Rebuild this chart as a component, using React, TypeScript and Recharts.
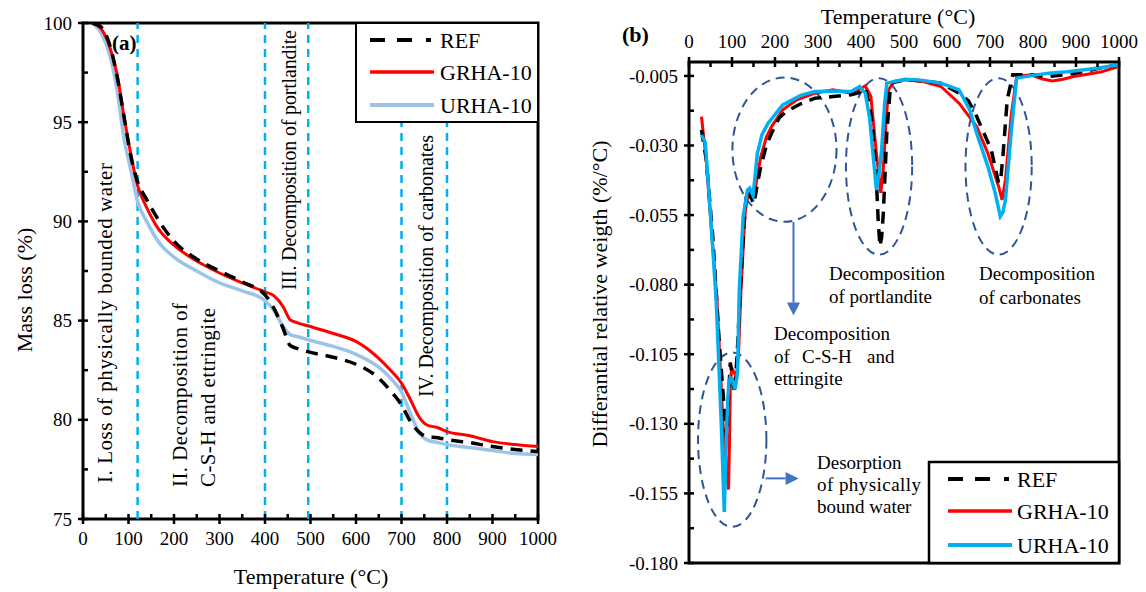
import React from "react";
import { LineChart, Line, XAxis, YAxis, ReferenceLine, ReferenceArea } from "recharts";

const FONT = '"Liberation Serif", "Times New Roman", serif';

// ---- panel (a): TG mass loss ----
const tgTemp = [20, 40, 60, 75, 90, 105, 120, 140, 165, 200, 250, 300, 350, 400, 420, 440, 455, 470, 500, 550, 600, 650, 680, 700, 720, 740, 755, 780, 800, 850, 900, 950, 1000];
const tgRef = [100, 99.8, 98.8, 97.3, 95.3, 93.3, 92.0, 91.1, 90.1, 89.0, 88.1, 87.5, 86.95, 86.3, 85.6, 84.6, 83.75, 83.6, 83.4, 83.15, 82.8, 82.1, 81.35, 80.75, 79.9, 79.35, 79.15, 79.1, 79.0, 78.85, 78.65, 78.5, 78.4];
const tgGrha = [100, 99.7, 98.7, 97.4, 95.3, 93.4, 91.8, 90.7, 89.65, 88.8, 88.0, 87.4, 86.9, 86.45, 86.25, 85.7, 85.05, 84.9, 84.7, 84.35, 83.95, 83.1, 82.4, 81.85, 81.0, 80.1, 79.75, 79.6, 79.4, 79.2, 78.9, 78.75, 78.65];
const tgUrha = [100, 99.5, 98.3, 96.6, 94.2, 92.6, 91.0, 90.0, 89.0, 88.2, 87.5, 86.9, 86.5, 86.0, 85.5, 84.7, 84.3, 84.2, 84.0, 83.7, 83.3, 82.65, 82.0, 81.4, 80.3, 79.3, 79.0, 78.85, 78.75, 78.6, 78.45, 78.3, 78.25];
const stageBounds = [120, 400, 495, 700, 800];

const tempTicks = [0, 50, 100, 150, 200, 250, 300, 350, 400, 450, 500, 550, 600, 650, 700, 750, 800, 850, 900, 950, 1000];
const tempLabels = [0, 100, 200, 300, 400, 500, 600, 700, 800, 900, 1000];
const massTicks = [75, 77.5, 80, 82.5, 85, 87.5, 90, 92.5, 95, 97.5, 100];
const massLabels = [75, 80, 85, 90, 95, 100];

// ---- panel (b): DTG ----
const dtgRefTemp = [29, 40, 55, 70, 87, 92, 96, 100, 106, 112, 120, 128, 134, 142, 151, 160, 167, 180, 192, 210, 226, 260, 293, 335, 377, 395, 410, 420, 427, 435, 440, 444, 448, 452, 456, 460, 469, 502, 544, 586, 628, 650, 669, 690, 703, 715, 720, 725, 730, 740, 753, 795, 837, 880, 920, 960, 1000];
const dtgRef = [-0.0244, -0.035, -0.062, -0.100, -0.135, -0.120, -0.108, -0.112, -0.119, -0.105, -0.080, -0.058, -0.046, -0.048, -0.051, -0.043, -0.0375, -0.030, -0.0256, -0.020, -0.0178, -0.015, -0.013, -0.0124, -0.0118, -0.011, -0.0094, -0.016, -0.0232, -0.040, -0.057, -0.0662, -0.063, -0.054, -0.040, -0.0256, -0.0076, -0.0064, -0.0068, -0.0076, -0.0112, -0.014, -0.0196, -0.027, -0.0316, -0.040, -0.0435, -0.042, -0.034, -0.0136, -0.0046, -0.0046, -0.0052, -0.0045, -0.0034, -0.002, -0.001];
const dtgGrhaTemp = [29, 40, 52, 65, 79, 92, 94, 96, 99, 105, 110, 115, 121, 130, 134, 142, 155, 167, 180, 192, 218, 251, 293, 335, 377, 400, 410, 423, 435, 446, 452, 458, 464, 477, 502, 544, 586, 628, 669, 695, 720, 728, 736, 749, 762, 795, 820, 845, 870, 895, 920, 960, 1000];
const dtgGrha = [-0.0196, -0.035, -0.060, -0.085, -0.1296, -0.1536, -0.138, -0.1176, -0.1098, -0.1116, -0.113, -0.1056, -0.0816, -0.0555, -0.0495, -0.048, -0.0447, -0.034, -0.027, -0.0232, -0.0172, -0.0136, -0.0112, -0.0100, -0.0112, -0.0095, -0.0086, -0.0124, -0.0316, -0.047, -0.038, -0.022, -0.0100, -0.0070, -0.0064, -0.0070, -0.0088, -0.0148, -0.0232, -0.0328, -0.0447, -0.0495, -0.0423, -0.0196, -0.0052, -0.0046, -0.0060, -0.0068, -0.0062, -0.0052, -0.0046, -0.0035, -0.0016];
const dtgUrhaTemp = [29, 38, 50, 63, 75, 82, 88, 92, 96, 100, 107, 113, 117, 126, 136, 141, 149, 159, 170, 184, 218, 260, 293, 335, 377, 397, 410, 420, 427, 436, 442, 448, 455, 460, 502, 544, 586, 628, 653, 669, 695, 712, 724, 730, 736, 749, 762, 800, 837, 880, 920, 960, 1000];
const dtgUrha = [-0.0262, -0.029, -0.055, -0.085, -0.1296, -0.1617, -0.1296, -0.1164, -0.1134, -0.114, -0.1176, -0.1116, -0.0816, -0.0555, -0.046, -0.0453, -0.048, -0.0328, -0.026, -0.022, -0.0154, -0.012, -0.0106, -0.0104, -0.0106, -0.0088, -0.0112, -0.020, -0.0316, -0.046, -0.040, -0.0316, -0.015, -0.0076, -0.0062, -0.0066, -0.0076, -0.010, -0.0172, -0.0256, -0.0375, -0.047, -0.0555, -0.054, -0.0495, -0.0256, -0.0058, -0.0048, -0.004, -0.0035, -0.0028, -0.002, -0.001];

const dtgLabels = [-0.005, -0.03, -0.055, -0.08, -0.105, -0.13, -0.155, -0.18];
const dtgTicks = [-0.005, -0.0175, -0.03, -0.0425, -0.055, -0.0675, -0.08, -0.0925, -0.105, -0.1175, -0.13, -0.1425, -0.155, -0.1675, -0.18];

// annotation regions (temperature range, dtg range)
const regions = [
  { t: [101, 343], v: [-0.0574, -0.0056] },
  { t: [365, 519], v: [-0.0692, -0.0058] },
  { t: [643, 797], v: [-0.0692, -0.0058] },
  { t: [21, 180], v: [-0.167, -0.1044] },
];
const arrows = [
  { from: { t: 243, v: -0.0575 }, to: { t: 243, v: -0.0911 } },
  { from: { t: 178, v: -0.1496 }, to: { t: 255, v: -0.1496 } },
];

const zip = (t: number[], v: number[]) => t.map((x, i) => ({ t: x, v: v[i] }));
const tgRefData = zip(tgTemp, tgRef);
const tgGrhaData = zip(tgTemp, tgGrha);
const tgUrhaData = zip(tgTemp, tgUrha);

const isIn = (list: number[], v: number) => list.some((m) => Math.abs(m - v) < 1e-9);

function makeTick(side: "left" | "bottom" | "top", labels: number[], fmt: (v: number) => string) {
  return (props: any) => {
    const { x, y, payload } = props;
    const v = payload.value;
    const major = isIn(labels, v);
    const L = 5;
    const txt = { fontFamily: FONT, fontSize: 19, fill: "#000" };
    if (side === "left") {
      return (
        <g>
          <line x1={major ? x - L : x} x2={x + L} y1={y} y2={y} stroke="#000" strokeWidth={2.5} />
          {major && (
            <text x={x - 11} y={y} dy="0.35em" textAnchor="end" {...txt}>
              {fmt(v)}
            </text>
          )}
        </g>
      );
    }
    if (side === "bottom") {
      return (
        <g>
          <line x1={x} x2={x} y1={y - L} y2={major ? y + L : y} stroke="#000" strokeWidth={2.5} />
          {major && (
            <text x={x} y={y + 26} textAnchor="middle" {...txt}>
              {fmt(v)}
            </text>
          )}
        </g>
      );
    }
    return (
      <g>
        <line x1={x} x2={x} y1={major ? y - L : y} y2={y + L} stroke="#000" strokeWidth={2.5} />
        {major && (
          <text x={x} y={y - 14} textAnchor="middle" {...txt}>
            {fmt(v)}
          </text>
        )}
      </g>
    );
  };
}

const Ellipse = (p: any) => (
  <ellipse
    cx={p.x + p.width / 2}
    cy={p.y + p.height / 2}
    rx={Math.abs(p.width) / 2}
    ry={Math.abs(p.height) / 2}
    fill="none"
    stroke="#2f5597"
    strokeWidth={2}
    strokeDasharray="9 6"
  />
);

const Arrow = (p: any) => {
  const { x1, y1, x2, y2 } = p;
  const dx = x2 - x1;
  const dy = y2 - y1;
  const len = Math.sqrt(dx * dx + dy * dy) || 1;
  const ux = dx / len;
  const uy = dy / len;
  const bx = x2 - ux * 13;
  const by = y2 - uy * 13;
  return (
    <g>
      <line x1={x1} y1={y1} x2={bx} y2={by} stroke="#4472c4" strokeWidth={2} />
      <polygon
        points={`${x2},${y2} ${bx - uy * 6.5},${by + ux * 6.5} ${bx + uy * 6.5},${by - ux * 6.5}`}
        fill="#4472c4"
      />
    </g>
  );
};

const T = (p: any) => <text fontFamily={FONT} fill="#000" {...p} />;

export default function App() {
  const fmtInt = (v: number) => String(v);
  return (
    <div style={{ position: "absolute", left: 0, top: 0, width: 1146, height: 592, background: "#fff" }}>
      <div style={{ position: "absolute", left: 0, top: 0 }}>
        <LineChart width={560} height={592} margin={{ top: 23, right: 22, bottom: 43, left: 0 }}>
          <XAxis
            dataKey="t"
            type="number"
            domain={[0, 1000]}
            ticks={tempTicks}
            interval={0}
            height={30}
            axisLine={false}
            tickLine={false}
            tickSize={0}
            tickMargin={0}
            tick={makeTick("bottom", tempLabels, fmtInt)}
            allowDataOverflow
          />
          <YAxis
            type="number"
            domain={[75, 100]}
            ticks={massTicks}
            interval={0}
            width={83}
            axisLine={false}
            tickLine={false}
            tickSize={0}
            tickMargin={0}
            tick={makeTick("left", massLabels, fmtInt)}
            allowDataOverflow
          />
          {stageBounds.map((b) => (
            <ReferenceLine key={b} x={b} stroke="#00b0f0" strokeWidth={2.5} strokeDasharray="8 6" />
          ))}
          <Line data={tgUrhaData} dataKey="v" type="monotone" stroke="#9dc3e6" strokeWidth={3.5} dot={false} activeDot={false} isAnimationActive={false} />
          <Line data={tgGrhaData} dataKey="v" type="monotone" stroke="#ff0000" strokeWidth={3} dot={false} activeDot={false} isAnimationActive={false} />
          <Line data={tgRefData} dataKey="v" type="monotone" stroke="#000" strokeWidth={3.5} strokeDasharray="12 8" dot={false} activeDot={false} isAnimationActive={false} />
          <ReferenceArea x1={0} x2={1000} y1={75} y2={100} fill="none" stroke="#000" strokeWidth={3} ifOverflow="visible" />
        </LineChart>
      </div>

      <div style={{ position: "absolute", left: 580, top: 0 }}>
        <LineChart width={566} height={592} margin={{ top: 32, right: 27, bottom: 29, left: 0 }}>
          <XAxis
            dataKey="t"
            type="number"
            orientation="top"
            domain={[0, 1000]}
            ticks={tempTicks}
            interval={0}
            height={30}
            axisLine={false}
            tickLine={false}
            tickSize={0}
            tickMargin={0}
            tick={makeTick("top", tempLabels, fmtInt)}
            allowDataOverflow
          />
          <YAxis
            type="number"
            domain={[-0.18, 0]}
            ticks={dtgTicks}
            interval={0}
            width={109}
            axisLine={false}
            tickLine={false}
            tickSize={0}
            tickMargin={0}
            tick={makeTick("left", dtgLabels, (v) => v.toFixed(3))}
            allowDataOverflow
          />
          {regions.map((r, i) => (
            <ReferenceArea key={i} x1={r.t[0]} x2={r.t[1]} y1={r.v[0]} y2={r.v[1]} shape={Ellipse} ifOverflow="visible" />
          ))}
          {arrows.map((a, i) => (
            <ReferenceLine
              key={i}
              segment={[{ x: a.from.t, y: a.from.v }, { x: a.to.t, y: a.to.v }]}
              shape={Arrow}
              ifOverflow="visible"
            />
          ))}
          <Line data={zip(dtgGrhaTemp, dtgGrha)} dataKey="v" type="linear" stroke="#ff0000" strokeWidth={3} dot={false} activeDot={false} isAnimationActive={false} />
          <Line data={zip(dtgRefTemp, dtgRef)} dataKey="v" type="linear" stroke="#000" strokeWidth={3.5} strokeDasharray="12 8" dot={false} activeDot={false} isAnimationActive={false} />
          <Line data={zip(dtgUrhaTemp, dtgUrha)} dataKey="v" type="linear" stroke="#00b0f0" strokeWidth={3.5} dot={false} activeDot={false} isAnimationActive={false} />
          <ReferenceArea x1={0} x2={1000} y1={-0.18} y2={0} fill="none" stroke="#000" strokeWidth={3} ifOverflow="visible" />
        </LineChart>
      </div>

      <svg width={1146} height={592} style={{ position: "absolute", left: 0, top: 0, pointerEvents: "none" }}>
        {/* panel (a) texts */}
        <T x={311} y={576} fontSize={22} textAnchor="middle" dominantBaseline="central">Temperature (°C)</T>
        <T transform="translate(24,290) rotate(-90)" fontSize={22} textAnchor="middle" dominantBaseline="central">Mass loss (%)</T>
        <T x={112} y={43} fontSize={21} fontWeight="bold" dominantBaseline="central">(a)</T>
        <T transform="translate(105,483) rotate(-90)" fontSize={21} textLength={320} lengthAdjust="spacing" dominantBaseline="central">I. Loss of physically bounded water</T>
        <T transform="translate(180,487) rotate(-90)" fontSize={21} textLength={184} lengthAdjust="spacing" dominantBaseline="central">II. Decomposition of</T>
        <T transform="translate(208,487) rotate(-90)" fontSize={21} textLength={179} lengthAdjust="spacing" dominantBaseline="central">C-S-H and ettringite</T>
        <T transform="translate(289,290) rotate(-90)" fontSize={20} textLength={260} lengthAdjust="spacing" dominantBaseline="central">III. Decomposition of portlandite</T>
        <T transform="translate(426,397) rotate(-90)" fontSize={20} textLength={262} lengthAdjust="spacing" dominantBaseline="central">IV. Decomposition of carbonates</T>

        {/* legend (a) */}
        <rect x={356} y={23} width={182} height={99} fill="#fff" stroke="#000" strokeWidth={2} />
        <line x1={370} x2={434} y1={40} y2={40} stroke="#000" strokeWidth={4} strokeDasharray="15 12 15 14 5" />
        <line x1={370} x2={434} y1={72} y2={72} stroke="#ff0000" strokeWidth={3.5} />
        <line x1={370} x2={434} y1={105} y2={105} stroke="#9dc3e6" strokeWidth={4} />
        <T x={440} y={40} fontSize={22} dominantBaseline="central">REF</T>
        <T x={440} y={72} fontSize={22} dominantBaseline="central">GRHA-10</T>
        <T x={440} y={105} fontSize={22} dominantBaseline="central">URHA-10</T>

        {/* panel (b) texts */}
        <T x={898} y={16} fontSize={22} textAnchor="middle" dominantBaseline="central">Temperature (°C)</T>
        <T transform="translate(599,294) rotate(-90)" fontSize={22} textAnchor="middle" dominantBaseline="central">Differantial relative weigth (%/°C)</T>
        <T x={622} y={34} fontSize={22} fontWeight="bold" dominantBaseline="central">(b)</T>
        <T x={829} y={273} fontSize={19} dominantBaseline="central">Decomposition</T>
        <T x={829} y={296} fontSize={19} dominantBaseline="central">of portlandite</T>
        <T x={979} y={273} fontSize={19} dominantBaseline="central">Decomposition</T>
        <T x={979} y={297} fontSize={19} dominantBaseline="central">of carbonates</T>
        <T x={774} y={333} fontSize={19} dominantBaseline="central">Decomposition</T>
        <T x={774} y={356} fontSize={19} dominantBaseline="central">of</T>
        <T x={802} y={356} fontSize={19} dominantBaseline="central">C-S-H</T>
        <T x={867} y={356} fontSize={19} dominantBaseline="central">and</T>
        <T x={774} y={378} fontSize={19} dominantBaseline="central">ettringite</T>
        <T x={817} y={462} fontSize={19} dominantBaseline="central">Desorption</T>
        <T x={817} y={484} fontSize={19} textLength={104} lengthAdjust="spacing" dominantBaseline="central">of physically</T>
        <T x={817} y={506} fontSize={19} dominantBaseline="central">bound water</T>

        {/* legend (b) */}
        <rect x={929} y={462} width={190} height={101} fill="#fff" stroke="#000" strokeWidth={2.5} />
        <line x1={948} x2={1012} y1={479} y2={479} stroke="#000" strokeWidth={4} strokeDasharray="15 12 15 14 5" />
        <line x1={948} x2={1012} y1={511} y2={511} stroke="#ff0000" strokeWidth={3.5} />
        <line x1={948} x2={1012} y1={545} y2={545} stroke="#00b0f0" strokeWidth={4} />
        <T x={1017} y={479} fontSize={22} dominantBaseline="central">REF</T>
        <T x={1017} y={511} fontSize={22} dominantBaseline="central">GRHA-10</T>
        <T x={1017} y={545} fontSize={22} dominantBaseline="central">URHA-10</T>
      </svg>
    </div>
  );
}
